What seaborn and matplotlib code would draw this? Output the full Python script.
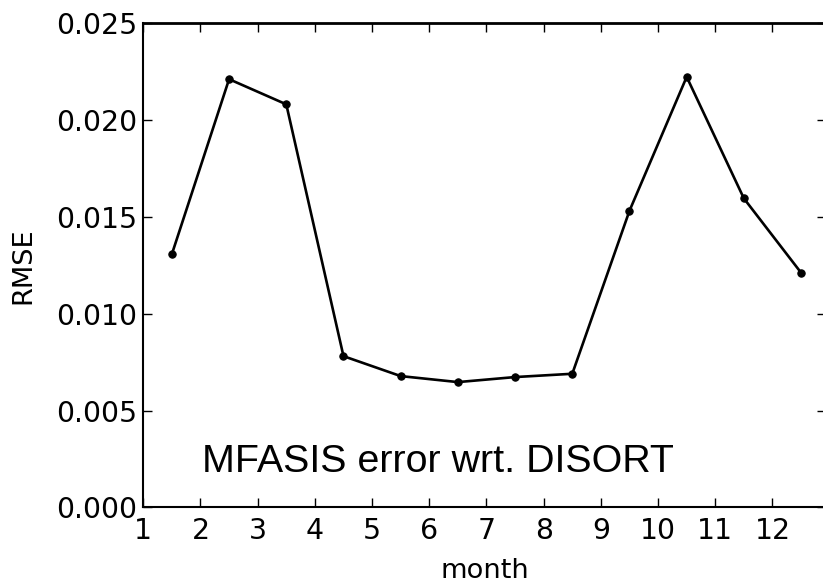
import matplotlib
matplotlib.use("Agg")
import matplotlib.pyplot as plt
import seaborn as sns
import pandas as pd

months = [1.5, 2.5, 3.5, 4.5, 5.5, 6.5, 7.5, 8.5, 9.5, 10.5, 11.5, 12.5]
rmse = [0.01308, 0.02212, 0.02082, 0.00781, 0.00678, 0.00647,
        0.00673, 0.00690, 0.01532, 0.02224, 0.01596, 0.01212]
xticks = list(range(1, 13))
yticks = [0.000, 0.005, 0.010, 0.015, 0.020, 0.025]
annotation = "MFASIS error wrt. DISORT"

sns.set_style("ticks")
plt.rcParams['font.family'] = ['DejaVu Sans']
plt.rcParams['text.color'] = 'black'
plt.rcParams['axes.labelcolor'] = 'black'

df = pd.DataFrame({"month": months, "RMSE": rmse})

fig = plt.figure(figsize=(8.23, 5.83), dpi=100)
ax = fig.add_axes([0.1741, 0.1298, 0.8295, 0.830])

sns.lineplot(data=df, x="month", y="RMSE", ax=ax, color="black",
             linewidth=1.9, marker="o", markersize=5.3,
             markeredgecolor="black", markerfacecolor="black")

ax.set_xlim(1, 12.935)
ax.set_ylim(0, 0.025)
ax.set_xticks(xticks)
ax.set_xticklabels([str(t) for t in xticks])
ax.set_yticks(yticks)
ax.set_yticklabels([f"{t:.3f}" for t in yticks])

for s in ax.spines.values():
    s.set_visible(True)
    s.set_linewidth(1.5)
    s.set_color("black")
ax.spines["top"].set_linewidth(2.0)

ax.tick_params(axis="both", which="major", direction="in", length=6.5,
               width=1.0, labelsize=20.4, colors="black",
               top=True, right=True)
ax.tick_params(axis="x", pad=7.0)
ax.tick_params(axis="y", pad=4.5)

ax.set_xlabel("month", fontsize=19.6, labelpad=9, color="black")
ax.set_ylabel("RMSE", fontsize=19.6, labelpad=14, color="black")

ax.text(2.02, 0.00184, annotation, fontsize=28.4,
        family=['Liberation Sans', 'DejaVu Sans'], color="black",
        ha="left", va="baseline")

fig.savefig("out.png", dpi=100)
